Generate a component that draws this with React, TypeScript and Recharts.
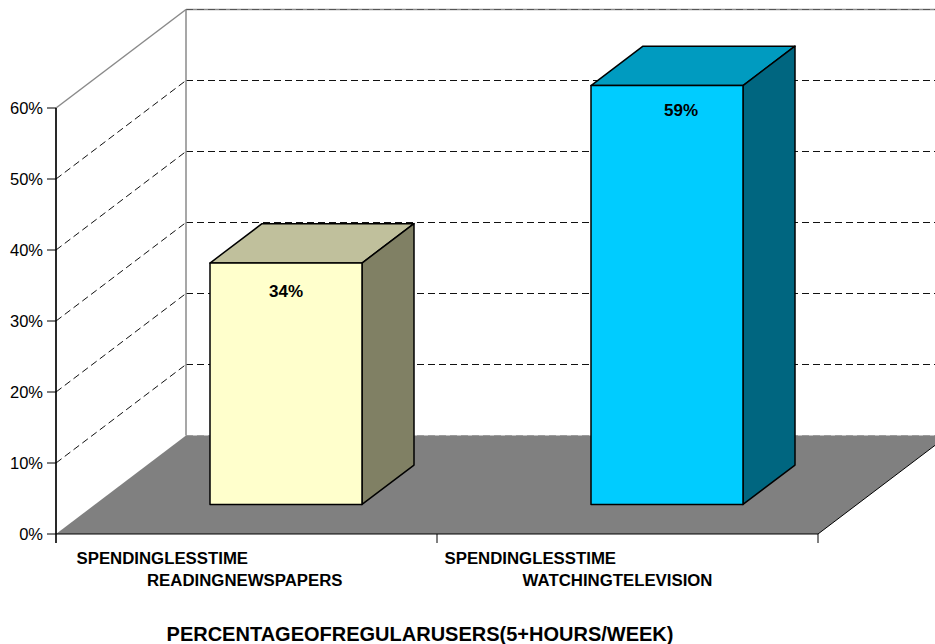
import React from 'react';
import { BarChart, Bar, XAxis, YAxis, Customized, LabelList } from 'recharts';

// ---- data ----
const labelLine1 = ['SPENDINGLESSTIME', 'SPENDINGLESSTIME'];
const labelLine2 = ['READINGNEWSPAPERS', 'WATCHINGTELEVISION'];
const shareOfUsers = [34, 59];
const yTicks = [0, 10, 20, 30, 40, 50, 60];
const chartTitle = 'PERCENTAGEOFREGULARUSERS(5+HOURS/WEEK)';

// ---- styling ----
const FONT = '"Liberation Sans", Arial, Helvetica, sans-serif';
const FRONT_FILLS = ['#FFFFCC', '#00CCFF'];
const TOP_FILLS = ['#C0C09C', '#009BC0'];
const SIDE_FILLS = ['#808064', '#006680'];

const W = 935;
const H = 644;
const Y_AXIS_W = 50;
const X_AXIS_H = 60;
const MARGIN = { top: 108, right: 117, bottom: 50, left: 6 };

// plot box of the front plane
const L = MARGIN.left + Y_AXIS_W;
const R = W - MARGIN.right;
const T = MARGIN.top;
const B = H - MARGIN.bottom - X_AXIS_H;

// 3D depth vector (front plane -> back wall)
const DX = 130;
const DY = -98.5;
// bars occupy this slice of the depth
const BAR_FRONT = 0.3;
const BAR_BACK = 0.7;

// label placement tweaks per category
const LINE1_LEFT = [170, 183];
const LINE2_RIGHT = [96, 85];
const VALUE_NUDGE = [
  { dx: 0, dy: 34 },
  { dx: 14, dy: 30 },
];

const data = shareOfUsers.map((v, i) => ({
  name: labelLine2[i],
  value: v,
}));

const yMax = yTicks[yTicks.length - 1];
const yOf = (v: number) => B - (v / yMax) * (B - T);

const Backdrop = () => {
  const inner = yTicks.filter((v) => v > 0 && v < yMax);
  const band = (R - L) / data.length;
  const dash = '7 4';
  return (
    <g>
      {/* floor */}
      <polygon
        points={`${L},${B} ${L + DX},${B + DY} ${R + DX},${B + DY} ${R},${B}`}
        fill="#808080"
        stroke="none"
      />
      <line x1={L + DX} y1={B + DY} x2={W + 40} y2={B + DY} stroke="#9a9a9a" strokeDasharray={dash} />
      <line x1={R} y1={B} x2={R + DX} y2={B + DY} stroke="#000" strokeWidth={1} />

      {/* back wall gridlines */}
      {inner.map((v) => (
        <line
          key={`b${v}`}
          x1={L + DX}
          y1={yOf(v) + DY}
          x2={W + 40}
          y2={yOf(v) + DY}
          stroke="#111"
          strokeDasharray={dash}
        />
      ))}
      <line x1={L + DX} y1={yOf(yMax) + DY} x2={W + 40} y2={yOf(yMax) + DY} stroke="#8a8a8a" strokeWidth={1.5} />
      <line x1={L + DX} y1={yOf(yMax) + DY} x2={W + 40} y2={yOf(yMax) + DY} stroke="#555" strokeDasharray={dash} />

      {/* side wall gridlines */}
      {inner.map((v) => (
        <line
          key={`s${v}`}
          x1={L}
          y1={yOf(v)}
          x2={L + DX}
          y2={yOf(v) + DY}
          stroke="#111"
          strokeDasharray={dash}
        />
      ))}
      <line x1={L} y1={yOf(yMax)} x2={L + DX} y2={yOf(yMax) + DY} stroke="#8a8a8a" strokeWidth={1.5} />

      {/* back wall corner */}
      <line x1={L + DX} y1={yOf(yMax) + DY} x2={L + DX} y2={B + DY} stroke="#8a8a8a" strokeWidth={1.5} />

      {/* axis extensions and category boundary ticks */}
      <line x1={L} y1={T} x2={L} y2={B + 9} stroke="#000" strokeWidth={1.2} />
      {Array.from({ length: data.length + 1 }, (_, i) => (
        <line key={`t${i}`} x1={L + band * i} y1={B} x2={L + band * i} y2={B + 9} stroke="#000" strokeWidth={1} />
      ))}
      <line x1={L} y1={B} x2={R} y2={B} stroke="#000" strokeWidth={1.2} />
    </g>
  );
};

const Title = () => (
  <text
    x={420}
    y={641}
    textAnchor="middle"
    fontFamily={FONT}
    fontWeight="bold"
    fontSize={20}
    fill="#000"
  >
    {chartTitle}
  </text>
);

const Prism = (props: any) => {
  const { x, y, width, height, index } = props;
  const fx = BAR_FRONT * DX;
  const fy = BAR_FRONT * DY;
  const sdx = (BAR_BACK - BAR_FRONT) * DX;
  const sdy = (BAR_BACK - BAR_FRONT) * DY;
  const x0 = x + fx;
  const x1 = x + width + fx;
  const yTop = y + fy;
  const yBot = y + height + fy;
  const stroke = { stroke: '#000', strokeWidth: 1.5, strokeLinejoin: 'round' as const };
  return (
    <g>
      <polygon
        points={`${x0},${yTop} ${x1},${yTop} ${x1 + sdx},${yTop + sdy} ${x0 + sdx},${yTop + sdy}`}
        fill={TOP_FILLS[index]}
        {...stroke}
      />
      <polygon
        points={`${x1},${yTop} ${x1 + sdx},${yTop + sdy} ${x1 + sdx},${yBot + sdy} ${x1},${yBot}`}
        fill={SIDE_FILLS[index]}
        {...stroke}
      />
      <rect x={x0} y={yTop} width={width} height={height} fill={FRONT_FILLS[index]} {...stroke} />
    </g>
  );
};

const ValueLabel = (props: any) => {
  const { x, y, width, value, index } = props;
  const n = VALUE_NUDGE[index] || { dx: 0, dy: 30 };
  return (
    <text
      x={x + width / 2 + BAR_FRONT * DX + n.dx}
      y={y + BAR_FRONT * DY + n.dy}
      textAnchor="middle"
      fontFamily={FONT}
      fontWeight="bold"
      fontSize={17}
      fill="#000"
    >
      {`${value}%`}
    </text>
  );
};

const CategoryTick = (props: any) => {
  const { x, index } = props;
  return (
    <g>
      <text x={x - LINE1_LEFT[index]} y={B + 30} textAnchor="start" fontFamily={FONT} fontWeight="bold" fontSize={16.8} fill="#000">
        {labelLine1[index]}
      </text>
      <text x={x + LINE2_RIGHT[index]} y={B + 52} textAnchor="end" fontFamily={FONT} fontWeight="bold" fontSize={16.8} fill="#000">
        {labelLine2[index]}
      </text>
    </g>
  );
};

export default function App() {
  return (
    <div style={{ position: 'absolute', left: 0, top: 0, width: W, height: H, background: '#fff' }}>
      <BarChart width={W} height={H} data={data} margin={MARGIN} barSize={152}>
        <Customized component={Backdrop} />
        <XAxis
          dataKey="name"
          height={X_AXIS_H}
          axisLine={false}
          tickLine={false}
          tick={<CategoryTick />}
          interval={0}
        />
        <YAxis
          width={Y_AXIS_W}
          domain={[0, yMax]}
          ticks={yTicks}
          tickFormatter={(v: number) => `${v}%`}
          axisLine={{ stroke: '#000', strokeWidth: 1.2 }}
          tickLine={{ stroke: '#000' }}
          tickSize={9}
          tickMargin={4}
          tick={{ fill: '#000', fontSize: 16.5, fontFamily: FONT }}
          interval={0}
        />
        <Bar dataKey="value" shape={<Prism />} isAnimationActive={false}>
          <LabelList dataKey="value" content={<ValueLabel />} />
        </Bar>
        <Customized component={Title} />
      </BarChart>
    </div>
  );
}
